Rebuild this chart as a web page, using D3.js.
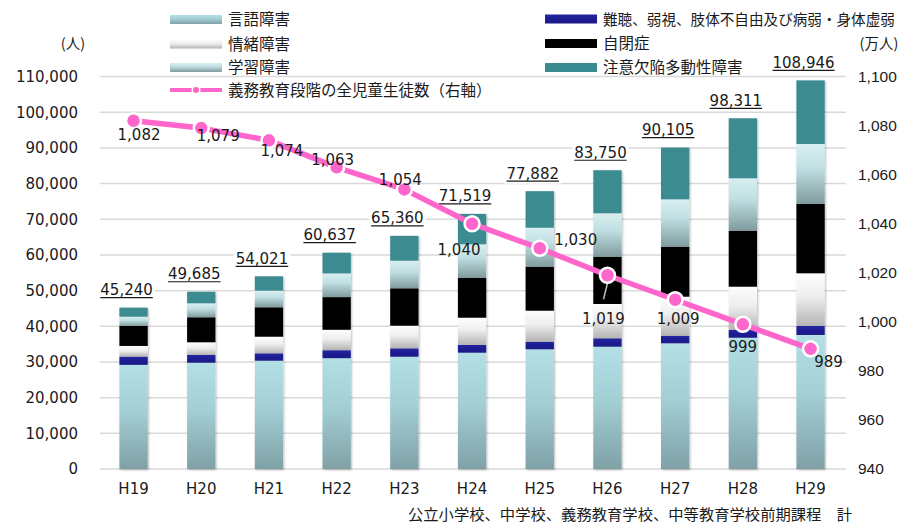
<!DOCTYPE html>
<html><head><meta charset="utf-8">
<script src="https://cdn.jsdelivr.net/npm/d3@7/dist/d3.min.js"></script>
<style>
html,body{margin:0;padding:0;background:#fff;}
svg{display:block;}
</style></head>
<body>
<svg id="chart" width="902" height="524"></svg>
<script>
// ---- data ----
const years = ["H19","H20","H21","H22","H23","H24","H25","H26","H27","H28","H29"];
const gengo    = [29200, 29800, 30360, 31066, 31480, 32610, 33560, 34290, 35240, 36810, 37570]; // 言語障害
const nanchou  = [2300, 2160, 2070, 2233, 2350, 2150, 2130, 2350, 2130, 2160, 2520];           // 難聴、弱視…
const jocho    = [3000, 3560, 4660, 5737, 6340, 7660, 8690, 9620, 10940, 12140, 14770];        // 情緒障害
const jiheisho = [5600, 7010, 8240, 9148, 10480, 11210, 12340, 13260, 14020, 15700, 19430];    // 自閉症
const gakushu  = [2600, 3920, 4670, 6655, 7750, 9370, 10930, 12170, 13270, 14690, 16820];      // 学習障害
const adhd     = [2540, 3235, 4021, 5798, 6960, 8519, 10232, 12060, 14505, 16811, 17836];      // 注意欠陥多動性障害
const totals   = [45240, 49685, 54021, 60637, 65360, 71519, 77882, 83750, 90105, 98311, 108946];
const students = [1082, 1079, 1074, 1063, 1054, 1040, 1030, 1019, 1009, 999, 989];            // 万人 (右軸)
const leftTicks  = [0,10000,20000,30000,40000,50000,60000,70000,80000,90000,100000,110000];
const rightTicks = [940,960,980,1000,1020,1040,1060,1080,1100];
const seriesNames = ["言語障害","難聴、弱視、肢体不自由及び病弱・身体虚弱","情緒障害","自閉症","学習障害","注意欠陥多動性障害"];
const lineName = "義務教育段階の全児童生徒数（右軸）";
const caption = "公立小学校、中学校、義務教育学校、中等教育学校前期課程　計";

// ---- layout (not data) ----
const NUM_FONT = "'DejaVu Sans', Verdana, sans-serif";
const AX_R_FONT = "'Liberation Sans', Arial, sans-serif";
const JP_FONT = "'Noto Sans CJK JP', 'Noto Sans', sans-serif";
const lineLabelOffsets = [[5.5,13.5],[17,7],[13,10.5],[-4,-8],[-4,-10],[-13,26],[36,-9],[-4,43],[3,19],[0,22],[18,13]];

const svg = d3.select("#chart");
const defs = svg.append("defs");

function vgrad(id, stops){
  const g = defs.append("linearGradient").attr("id", id).attr("x1",0).attr("y1",0).attr("x2",0).attr("y2",1);
  stops.forEach(s => g.append("stop").attr("offset", s[0]).attr("stop-color", s[1]));
}
vgrad("gGengo", [[0,"#b3e0e6"],[0.45,"#a2ced4"],[1,"#7fa1a6"]]);
vgrad("gJocho", [[0,"#fdfdfd"],[0.45,"#eeeeee"],[1,"#b4b4b4"]]);
vgrad("gGaku",  [[0,"#d8eff1"],[0.4,"#c0dfe2"],[1,"#7f9b9e"]]);
vgrad("gBlue",  [[0,"#2323a0"],[1,"#191985"]]);

const f = defs.append("filter").attr("id","shadow").attr("x","-30%").attr("y","-10%").attr("width","160%").attr("height","120%");
f.append("feDropShadow").attr("dx",1).attr("dy",1).attr("stdDeviation",1.3).attr("flood-color","#000").attr("flood-opacity",0.28);

const fills = ["url(#gGengo)","url(#gBlue)","url(#gJocho)","#000000","url(#gGaku)","#3a8b91"];

const x = d3.scaleBand().domain(years).range([99.7, 844.4]).paddingInner(0.582).paddingOuter(0.291);
const yL = d3.scaleLinear().domain([0,110000]).range([469, 76.6]);
const yR = d3.scaleLinear().domain([940,1100]).range([469, 76.6]);

// gridlines
svg.append("g").selectAll("line").data(leftTicks).join("line")
  .attr("x1", 99.7).attr("x2", 846).attr("y1", d=>yL(d)).attr("y2", d=>yL(d))
  .attr("stroke","#d9d9d9").attr("stroke-width",1.5);

// left axis
const axL = d3.axisLeft(yL).tickValues(leftTicks).tickFormat(d3.format(",")).tickSize(0).tickPadding(0);
const gL = svg.append("g").attr("transform","translate(78,0)").call(axL);
gL.select(".domain").remove();
gL.selectAll("text").attr("font-family",NUM_FONT).attr("font-size",15).attr("fill","#1a1a1a");

// right axis
const axR = d3.axisRight(yR).tickValues(rightTicks).tickFormat(d3.format(",")).tickSize(0).tickPadding(0);
const gR = svg.append("g").attr("transform","translate(858,0)").call(axR);
gR.select(".domain").remove();
gR.selectAll("text").attr("font-family",AX_R_FONT).attr("font-size",15.5).attr("fill","#1a1a1a");

// bottom axis
const axB = d3.axisBottom(x).tickSize(0).tickPadding(0);
const gB = svg.append("g").attr("transform","translate(0,480)").call(axB);
gB.select(".domain").remove();
gB.selectAll("text").attr("font-family",NUM_FONT).attr("font-size",15).attr("fill","#1a1a1a").attr("dy","0.9em");

// unit labels
svg.append("text").attr("x",73).attr("y",49).attr("text-anchor","middle").attr("font-family",JP_FONT).attr("font-size",14.5).attr("fill","#1a1a1a").text("(人)");
svg.append("text").attr("x",879).attr("y",49).attr("text-anchor","middle").attr("font-family",JP_FONT).attr("font-size",14.5).attr("fill","#1a1a1a").text("(万人)");

// stacked bars
const table = years.map((y,i)=>({year:y, v:[gengo[i],nanchou[i],jocho[i],jiheisho[i],gakushu[i],adhd[i]]}));
const stack = d3.stack().keys([0,1,2,3,4,5]).value((d,k)=>d.v[k]);
const layers = stack(table);
const barG = svg.append("g").attr("filter","url(#shadow)");
layers.forEach((layer,k)=>{
  barG.append("g").selectAll("rect").data(layer).join("rect")
    .attr("x", d=>x(d.data.year)).attr("width", x.bandwidth())
    .attr("y", d=>yL(d[1])).attr("height", d=>yL(d[0])-yL(d[1]))
    .attr("fill", fills[k]);
});

// total labels (underlined, white background)
const totG = svg.append("g");
totals.forEach((t,i)=>{
  const cx = x(years[i]) + x.bandwidth()/2 - 7;
  const by = yL(t) - 12.5;
  const g = totG.append("g");
  const bg = g.append("rect").attr("fill","#fff");
  const tx = g.append("text").attr("x",cx).attr("y",by).attr("text-anchor","middle")
    .attr("font-family",NUM_FONT).attr("font-size",15).attr("fill","#1a1a1a").text(d3.format(",")(t));
  const w = tx.node().getComputedTextLength();
  bg.attr("x",cx-w/2-2).attr("y",by-13).attr("width",w+4).attr("height",18);
  g.append("line").attr("x1",cx-w/2).attr("x2",cx+w/2).attr("y1",by+2.5).attr("y2",by+2.5).attr("stroke","#1a1a1a").attr("stroke-width",1.2);
});

// line series
const lineG = svg.append("g");
const lineGen = d3.line().x((d,i)=>x(years[i])+x.bandwidth()/2).y(d=>yR(d));
// leader line for 1,019
const li = students.indexOf(1019);
lineG.append("line").attr("x1", x(years[li])+x.bandwidth()/2+2).attr("y1", yR(students[li]))
  .attr("x2", x(years[li])+x.bandwidth()/2-4).attr("y2", yR(students[li])+24)
  .attr("stroke","#bfbfbf").attr("stroke-width",1.5);
lineG.append("path").datum(students).attr("d",lineGen).attr("fill","none")
  .attr("stroke","#ff66cc").attr("stroke-width",5.5).attr("stroke-linejoin","round");
lineG.selectAll("circle").data(students).join("circle")
  .attr("cx",(d,i)=>x(years[i])+x.bandwidth()/2).attr("cy",d=>yR(d)).attr("r",7.5)
  .attr("fill","#ff66cc").attr("stroke","#fff").attr("stroke-width",2.5);
lineG.selectAll("text.ll").data(students).join("text").attr("class","ll")
  .attr("x",(d,i)=>x(years[i])+x.bandwidth()/2+lineLabelOffsets[i][0])
  .attr("y",(d,i)=>yR(d)+lineLabelOffsets[i][1]+5.5)
  .attr("text-anchor","middle").attr("font-family",NUM_FONT).attr("font-size",15).attr("fill","#1a1a1a")
  .text(d=>d3.format(",")(d));

// legend
const leg = svg.append("g");
const legItems = [
  {name:seriesNames[0], fill:fills[0], x:170, y:19.5},
  {name:seriesNames[2], fill:fills[2], x:170, y:44},
  {name:seriesNames[4], fill:fills[4], x:170, y:67.5},
  {name:seriesNames[1], fill:fills[1], x:545, y:19, fs:14.6},
  {name:seriesNames[3], fill:fills[3], x:545, y:43.5},
  {name:seriesNames[5], fill:fills[5], x:545, y:67.5}
];
legItems.forEach(it=>{
  leg.append("rect").attr("x",it.x).attr("y",it.y-4.5).attr("width",52).attr("height",9).attr("fill",it.fill);
  leg.append("text").attr("x",it.x+58).attr("y",it.y+5.5).attr("font-family",JP_FONT)
    .attr("font-size",it.fs || 15.5).attr("fill","#1a1a1a").text(it.name);
});
leg.append("line").attr("x1",170).attr("x2",222).attr("y1",90).attr("y2",90).attr("stroke","#ff66cc").attr("stroke-width",4);
leg.append("circle").attr("cx",196).attr("cy",90).attr("r",3.8).attr("fill","#ff66cc").attr("stroke","#fff").attr("stroke-width",1.5);
leg.append("text").attr("x",228).attr("y",95.5).attr("font-family",JP_FONT).attr("font-size",15.5).attr("fill","#1a1a1a").text(lineName);

// caption
svg.append("text").attr("x",408).attr("y",520).attr("font-family",JP_FONT).attr("font-size",15).attr("fill","#1a1a1a")
  .attr("textLength",444).attr("lengthAdjust","spacingAndGlyphs").text(caption);
</script>
</body></html>
